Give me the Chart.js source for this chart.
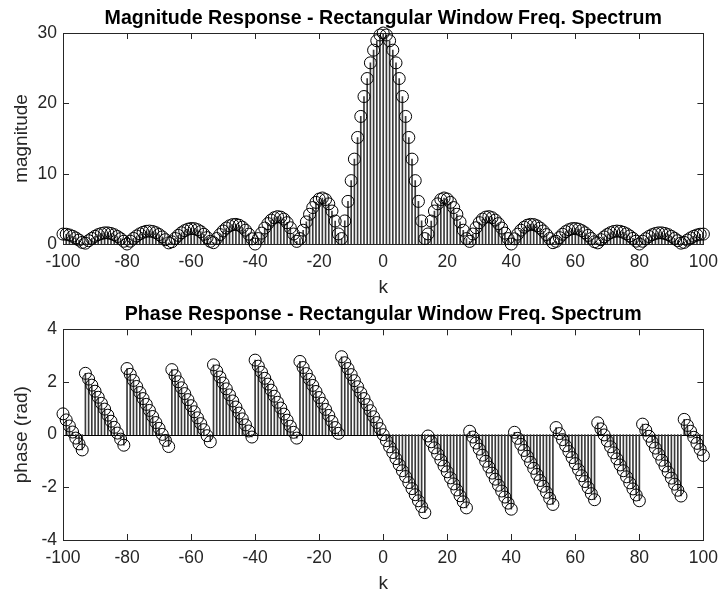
<!DOCTYPE html>
<html>
<head>
<meta charset="utf-8">
<script src="https://cdn.jsdelivr.net/npm/chart.js@4.4.0/dist/chart.umd.min.js"></script>
<style>
  body { margin: 0; background: #fff; }
  #wrap { position: relative; width: 726px; height: 595px; }
  canvas { position: absolute; left: 0; }
</style>
</head>
<body>
<div id="wrap">
  <canvas id="magChart" width="726" height="300" style="top:0;width:726px;height:300px"></canvas>
  <canvas id="phaseChart" width="726" height="295" style="top:300px;width:726px;height:295px"></canvas>
</div>
<script>
//Frequency index k
const k = [
  -100,-99,-98,-97,-96,-95,-94,-93,-92,-91,-90,-89,-88,-87,-86,-85,-84,-83,-82,-81,
  -80,-79,-78,-77,-76,-75,-74,-73,-72,-71,-70,-69,-68,-67,-66,-65,-64,-63,-62,-61,
  -60,-59,-58,-57,-56,-55,-54,-53,-52,-51,-50,-49,-48,-47,-46,-45,-44,-43,-42,-41,
  -40,-39,-38,-37,-36,-35,-34,-33,-32,-31,-30,-29,-28,-27,-26,-25,-24,-23,-22,-21,
  -20,-19,-18,-17,-16,-15,-14,-13,-12,-11,-10,-9,-8,-7,-6,-5,-4,-3,-2,-1,
  0,
  1,2,3,4,5,6,7,8,9,10,11,12,13,14,15,16,17,18,19,20,
  21,22,23,24,25,26,27,28,29,30,31,32,33,34,35,36,37,38,39,40,
  41,42,43,44,45,46,47,48,49,50,51,52,53,54,55,56,57,58,59,60,
  61,62,63,64,65,66,67,68,69,70,71,72,73,74,75,76,77,78,79,80,
  81,82,83,84,85,86,87,88,89,90,91,92,93,94,95,96,97,98,99,100
];

//Magnitude |X(k)|
const magnitude = [
  1.41,1.39,1.28,1.10,0.86,0.56,0.23,0.12,0.47,0.80,
  1.09,1.33,1.49,1.58,1.58,1.49,1.32,1.07,0.76,0.39,
  0.00,0.40,0.79,1.14,1.44,1.66,1.80,1.84,1.78,1.61,
  1.35,1.01,0.61,0.16,0.32,0.78,1.22,1.60,1.90,2.11,
  2.20,2.18,2.03,1.76,1.38,0.91,0.38,0.19,0.78,1.34,
  1.85,2.27,2.58,2.76,2.79,2.67,2.39,1.96,1.40,0.74,
  0.00,0.77,1.54,2.27,2.90,3.40,3.74,3.89,3.82,3.54,
  3.03,2.31,1.42,0.37,0.77,1.96,3.14,4.23,5.18,5.92,
  6.39,6.54,6.32,5.71,4.69,3.26,1.43,0.77,3.28,6.06,
  9.01,12.07,15.15,18.14,20.97,23.53,25.76,27.56,28.90,29.72,
  30.00,
  29.72,28.90,27.56,25.76,23.53,20.97,18.14,15.15,12.07,9.01,
  6.06,3.28,0.77,1.43,3.26,4.69,5.71,6.32,6.54,6.39,
  5.92,5.18,4.23,3.14,1.96,0.77,0.37,1.42,2.31,3.03,
  3.54,3.82,3.89,3.74,3.40,2.90,2.27,1.54,0.77,0.00,
  0.74,1.40,1.96,2.39,2.67,2.79,2.76,2.58,2.27,1.85,
  1.34,0.78,0.19,0.38,0.91,1.38,1.76,2.03,2.18,2.20,
  2.11,1.90,1.60,1.22,0.78,0.32,0.16,0.61,1.01,1.35,
  1.61,1.78,1.84,1.80,1.66,1.44,1.14,0.79,0.40,0.00,
  0.39,0.76,1.07,1.32,1.49,1.58,1.58,1.49,1.33,1.09,
  0.80,0.47,0.12,0.23,0.56,0.86,1.10,1.28,1.39,1.41
];

//Phase angle (rad)
const phase = [
  0.79,0.56,0.33,0.10,-0.13,-0.35,-0.58,2.33,2.11,1.88,
  1.65,1.42,1.19,0.97,0.74,0.51,0.28,0.06,-0.17,-0.40,
  2.51,2.29,2.06,1.83,1.60,1.37,1.15,0.92,0.69,0.46,
  0.24,0.01,-0.22,-0.45,2.47,2.24,2.01,1.78,1.56,1.33,
  1.10,0.87,0.64,0.42,0.19,-0.04,-0.27,2.65,2.42,2.19,
  1.96,1.74,1.51,1.28,1.05,0.82,0.60,0.37,0.14,-0.09,
  2.83,2.60,2.37,2.14,1.92,1.69,1.46,1.23,1.01,0.78,
  0.55,0.32,0.09,-0.13,2.78,2.55,2.32,2.10,1.87,1.64,
  1.41,1.19,0.96,0.73,0.50,0.27,0.05,2.96,2.73,2.51,
  2.28,2.05,1.82,1.59,1.37,1.14,0.91,0.68,0.46,0.23,
  0.00,
  -0.23,-0.46,-0.68,-0.91,-1.14,-1.37,-1.59,-1.82,-2.05,-2.28,
  -2.51,-2.73,-2.96,-0.05,-0.27,-0.50,-0.73,-0.96,-1.19,-1.41,
  -1.64,-1.87,-2.10,-2.32,-2.55,-2.78,0.13,-0.09,-0.32,-0.55,
  -0.78,-1.01,-1.23,-1.46,-1.69,-1.92,-2.14,-2.37,-2.60,-2.83,
  0.09,-0.14,-0.37,-0.60,-0.82,-1.05,-1.28,-1.51,-1.74,-1.96,
  -2.19,-2.42,-2.65,0.27,0.04,-0.19,-0.42,-0.64,-0.87,-1.10,
  -1.33,-1.56,-1.78,-2.01,-2.24,-2.47,0.45,0.22,-0.01,-0.24,
  -0.46,-0.69,-0.92,-1.15,-1.37,-1.60,-1.83,-2.06,-2.29,-2.51,
  0.40,0.17,-0.06,-0.28,-0.51,-0.74,-0.97,-1.19,-1.42,-1.65,
  -1.88,-2.11,-2.33,0.58,0.35,0.13,-0.10,-0.33,-0.56,-0.79
];

const FONT = "'Liberation Sans', Arial, Helvetica, sans-serif";
const AXIS_COLOR = '#262626';

//Box around the axes, inward tick marks and the stem baseline (MATLAB look)
const axesBox = {
  id: 'axesBox',
  beforeDatasetsDraw(chart) {
    const {ctx, chartArea: a, scales: {x, y}} = chart;
    const tl = 6;
    ctx.save();
    ctx.strokeStyle = AXIS_COLOR;
    ctx.lineWidth = 1;
    ctx.beginPath();
    x.ticks.forEach(t => {
      const px = Math.round(x.getPixelForValue(t.value)) + 0.5;
      ctx.moveTo(px, a.bottom); ctx.lineTo(px, a.bottom - tl);
      ctx.moveTo(px, a.top); ctx.lineTo(px, a.top + tl);
    });
    y.ticks.forEach(t => {
      const py = Math.round(y.getPixelForValue(t.value)) + 0.5;
      ctx.moveTo(a.left, py); ctx.lineTo(a.left + tl, py);
      ctx.moveTo(a.right, py); ctx.lineTo(a.right - tl, py);
    });
    ctx.stroke();
    //baseline at zero
    if (y.min < 0) {
      const py = Math.round(y.getPixelForValue(0)) + 0.5;
      ctx.strokeStyle = '#000';
      ctx.beginPath();
      ctx.moveTo(a.left, py); ctx.lineTo(a.right, py);
      ctx.stroke();
    }
    ctx.strokeStyle = AXIS_COLOR;
    ctx.strokeRect(Math.round(a.left) + 0.5, Math.round(a.top) + 0.5,
                   Math.round(a.right - a.left), Math.round(a.bottom - a.top));
    ctx.restore();
  }
};

function stemChart(id, title, yLabel, values, yMin, yMax, yStep, lay) {
  const pts = k.map((v, i) => ({x: v, y: values[i]}));
  return new Chart(document.getElementById(id), {
    type: 'bar',
    data: {
      datasets: [{
        type: 'scatter',
        data: pts,
        pointStyle: 'circle',
        pointRadius: 6,
        pointBorderWidth: 1,
        pointBorderColor: '#000',
        pointBackgroundColor: 'rgba(0,0,0,0)',
        clip: false
      }, {
        type: 'bar',
        data: pts,
        backgroundColor: '#3a3a3a',
        barThickness: 1,
        borderWidth: 0
      }]
    },
    options: {
      responsive: false,
      animation: false,
      events: [],
      layout: {padding: {left: 0, right: 15, top: 0, bottom: 0}},
      plugins: {
        legend: {display: false},
        tooltip: {enabled: false},
        title: {
          display: true,
          fullSize: false,
          text: title,
          color: '#000',
          font: {family: FONT, size: 19.6, weight: 'bold', lineHeight: 1.2},
          padding: {top: lay.titleTop, bottom: lay.titleBottom}
        }
      },
      scales: {
        x: {
          type: 'linear',
          offset: false,
          min: -100,
          max: 100,
          grid: {display: false, drawTicks: false},
          border: {display: false},
          ticks: {stepSize: 20, color: AXIS_COLOR, padding: 8, maxRotation: 0,
                  font: {family: FONT, size: 17.5}},
          title: {display: true, text: 'k', color: AXIS_COLOR,
                  font: {family: FONT, size: 19}, padding: {top: 0, bottom: lay.kBottom}},
          afterFit: s => { s.height = lay.xHeight; }
        },
        y: {
          min: yMin,
          max: yMax,
          grid: {display: false, drawTicks: false},
          border: {display: false},
          ticks: {stepSize: yStep, color: AXIS_COLOR, padding: 6,
                  font: {family: FONT, size: 17.5}},
          title: {display: true, text: yLabel, color: AXIS_COLOR,
                  font: {family: FONT, size: 19}, padding: {top: 10.6, bottom: 0}},
          afterFit: s => { s.width = 63; }
        }
      }
    },
    plugins: [axesBox]
  });
}

stemChart('magChart', 'Magnitude Response - Rectangular Window Freq. Spectrum', 'magnitude',
  magnitude, 0, 30, 10, {titleTop: 7.3, titleBottom: 2.2, xHeight: 56, kBottom: 1});

stemChart('phaseChart', 'Phase Response - Rectangular Window Freq. Spectrum', 'phase (rad)',
  phase, -4, 4, 2, {titleTop: 3.3, titleBottom: 2.5, xHeight: 55, kBottom: 0});
</script>
</body>
</html>
